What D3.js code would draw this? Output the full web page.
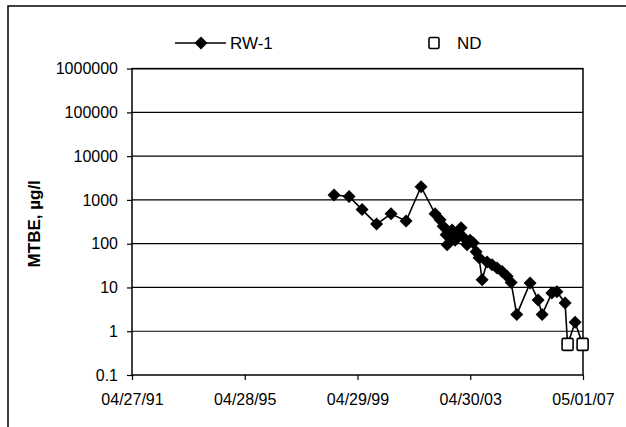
<!DOCTYPE html>
<html>
<head>
<meta charset="utf-8">
<script src="https://cdn.jsdelivr.net/npm/d3@7"></script>
<style>
  body { margin: 0; background: #fff; }
  text { font-family: Arial, "Liberation Sans", sans-serif; fill: #000; }
</style>
</head>
<body>
<svg id="chart"></svg>
<script>
// RW-1 detects (diamonds)
const rwDates = [
    "1998-06-29", "1999-01-10", "1999-06-27", "2000-01-01", "2000-07-07", "2001-01-18",
    "2001-07-31", "2002-01-29", "2002-04-04", "2002-05-13", "2002-06-21", "2002-07-04",
    "2002-08-11", "2002-09-06", "2002-10-15", "2002-11-23", "2003-01-01", "2003-02-09",
    "2003-03-20", "2003-04-28", "2003-06-06", "2003-07-15", "2003-08-22", "2003-10-01",
    "2003-12-04", "2004-02-07", "2004-04-12", "2004-06-16", "2004-08-20", "2004-10-11",
    "2004-12-23", "2005-06-14", "2005-09-26", "2005-11-17", "2006-03-23", "2006-05-27",
    "2006-09-11", "2007-01-19"
];
const rwValues = [
    1300, 1200, 600, 280, 480, 330,
    2000, 480, 350, 250, 160, 95,
    135, 205, 120, 185, 230, 135,
    95, 120, 105, 65, 48, 15,
    38, 33, 28, 23, 18, 13,
    2.4, 12.7, 5.2, 2.4, 7.5, 8,
    4.4, 1.6
];
// non-detects plotted at half the reporting limit
const ndDates = ["2006-10-13", "2007-04-26"];
const ndValues = [0.5, 0.5];

const yTicks = [0.1, 1, 10, 100, 1000, 10000, 100000, 1000000];
const xTicks = ["1991-04-27", "1995-04-28", "1999-04-29", "2003-04-30", "2007-05-01"];

const W = 626, H = 427;
const plot = { left: 132, top: 68.6, right: 583, bottom: 375 };

const parse = d3.timeParse("%Y-%m-%d");

const svg = d3.select("#chart").attr("width", W).attr("height", H);
svg.append("rect").attr("width", W).attr("height", H).attr("fill", "#fff");

// outer chart frame (only left and top show in the scan)
svg.append("path")
    .attr("d", `M8,${H}L8,6L${W},6`)
    .attr("fill", "none").attr("stroke", "#000").attr("stroke-width", 1.5);

const x = d3.scaleTime()
    .domain([parse(xTicks[0]), parse(xTicks[xTicks.length - 1])])
    .range([plot.left, plot.right]);

const y = d3.scaleLog()
    .domain([0.1, 1000000])
    .range([plot.bottom, plot.top]);

// gridlines
svg.append("g").selectAll("line")
    .data(yTicks.slice(1))
    .join("line")
    .attr("x1", plot.left).attr("x2", plot.right)
    .attr("y1", d => y(d)).attr("y2", d => y(d))
    .attr("stroke", "#000").attr("stroke-width", 1.2);

// plot border
svg.append("rect")
    .attr("x", plot.left).attr("y", plot.top)
    .attr("width", plot.right - plot.left).attr("height", plot.bottom - plot.top)
    .attr("fill", "none").attr("stroke", "#000").attr("stroke-width", 1.5);

const yAxis = svg.append("g")
    .attr("transform", `translate(${plot.left},0)`)
    .call(d3.axisLeft(y).tickValues(yTicks).tickSize(5).tickPadding(9)
        .tickFormat(d => d < 1 ? "0.1" : d3.format("d")(d)));
yAxis.select(".domain").remove();
yAxis.selectAll("line").attr("stroke", "#000").attr("stroke-width", 1.2);
yAxis.selectAll("text").attr("font-size", 16).attr("font-family", "Arial, 'Liberation Sans', sans-serif");

const xAxis = svg.append("g")
    .attr("transform", `translate(0,${plot.bottom})`)
    .call(d3.axisBottom(x).tickValues(xTicks.map(parse)).tickSize(5).tickPadding(14)
        .tickFormat(d3.timeFormat("%m/%d/%y")));
xAxis.select(".domain").remove();
xAxis.selectAll("line").attr("stroke", "#000").attr("stroke-width", 1.2);
xAxis.selectAll("text").attr("font-size", 16).attr("font-family", "Arial, 'Liberation Sans', sans-serif");

// y title
svg.append("text")
    .attr("transform", `translate(40,${(plot.top + plot.bottom) / 2 + 2}) rotate(-90)`)
    .attr("text-anchor", "middle")
    .attr("font-size", 17).attr("font-weight", "bold")
    .text("MTBE, µg/l");

// the line runs through detects and non-detects in date order
const rw = rwDates.map((d, i) => ({ date: parse(d), value: rwValues[i] }));
const nd = ndDates.map((d, i) => ({ date: parse(d), value: ndValues[i] }));
const all = rw.concat(nd).sort((a, b) => a.date - b.date);

svg.append("path")
    .datum(all)
    .attr("fill", "none").attr("stroke", "#000").attr("stroke-width", 1.6)
    .attr("d", d3.line().x(d => x(d.date)).y(d => y(d.value)));

const diamond = "M0,-6.5L6.5,0L0,6.5L-6.5,0Z";

svg.append("g").selectAll("path")
    .data(rw)
    .join("path")
    .attr("transform", d => `translate(${x(d.date)},${y(d.value)})`)
    .attr("d", diamond)
    .attr("fill", "#000");

svg.append("g").selectAll("rect")
    .data(nd)
    .join("rect")
    .attr("x", d => x(d.date) - 5.5).attr("y", d => y(d.value) - 6)
    .attr("width", 11).attr("height", 12).attr("rx", 1.5)
    .attr("fill", "#fff").attr("stroke", "#000").attr("stroke-width", 1.6);

// legend
const leg = svg.append("g");
leg.append("line").attr("x1", 175).attr("x2", 226).attr("y1", 43).attr("y2", 43)
    .attr("stroke", "#000").attr("stroke-width", 1.6);
leg.append("path").attr("transform", "translate(201,43)").attr("d", diamond).attr("fill", "#000");
leg.append("text").attr("x", 230).attr("y", 43).attr("dy", "0.36em")
    .attr("font-size", 17).text("RW-1");
leg.append("rect").attr("x", 429).attr("y", 37.5).attr("width", 10).attr("height", 11).attr("rx", 1.5)
    .attr("fill", "#fff").attr("stroke", "#000").attr("stroke-width", 1.6);
leg.append("text").attr("x", 457).attr("y", 43).attr("dy", "0.36em")
    .attr("font-size", 17).text("ND");
</script>
</body>
</html>
